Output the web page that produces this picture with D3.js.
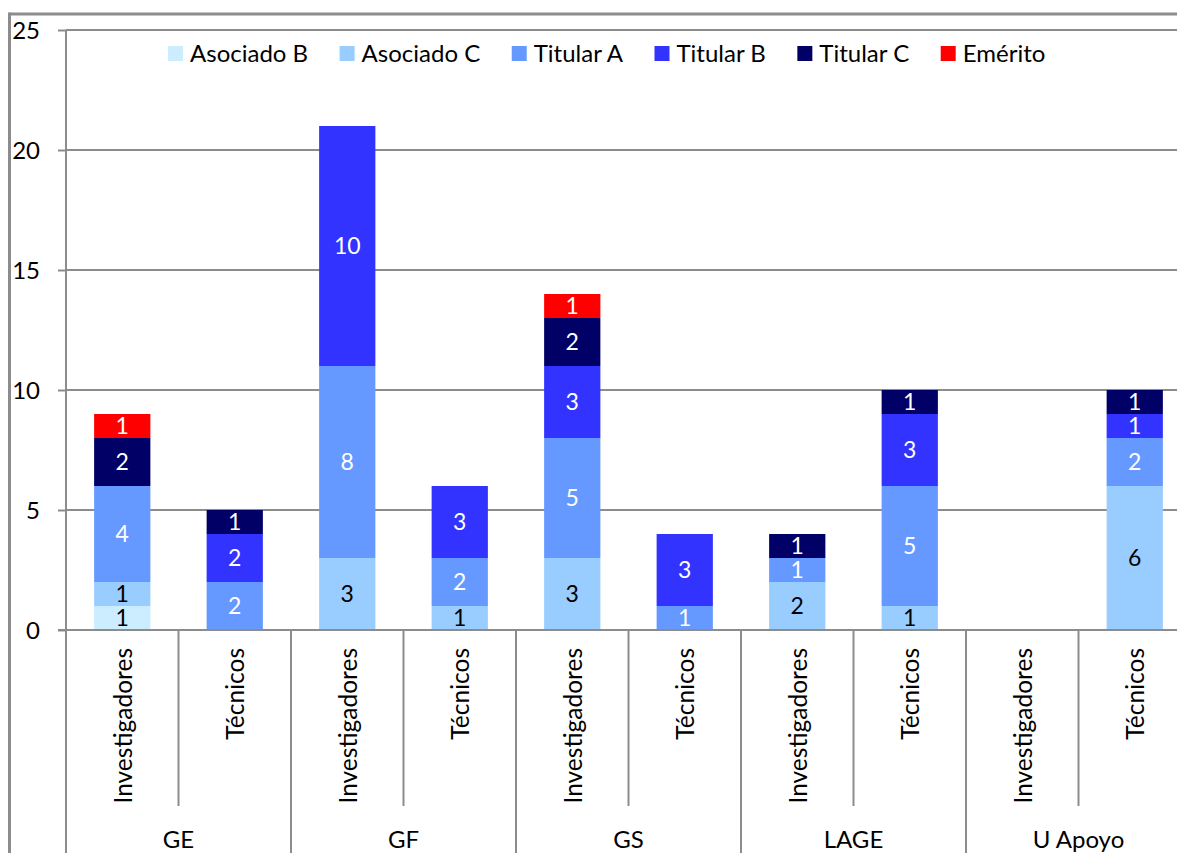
<!DOCTYPE html>
<html>
<head>
<meta charset="utf-8">
<script src="https://cdn.jsdelivr.net/npm/d3@7"></script>
<style>
  html, body { margin: 0; padding: 0; background: #fff; }
  svg { display: block; }
  text { font-family: Lato, "Open Sans", sans-serif; }
</style>
</head>
<body>
<svg id="chart" width="1177" height="853"></svg>
<script>
// ---- Data ----
const groups = ["GE", "GF", "GS", "LAGE", "U Apoyo"];
const subcategories = ["Investigadores", "Técnicos"];
const seriesNames = ["Asociado B", "Asociado C", "Titular A", "Titular B", "Titular C", "Emérito"];
const seriesColors = ["#CCECFF", "#99CCFF", "#6699FF", "#3333FF", "#000066", "#FF0000"];
const labelColors = ["#000000", "#000000", "#FFFFFF", "#FFFFFF", "#FFFFFF", "#FFFFFF"];
// order: GE-Inv, GE-Tec, GF-Inv, GF-Tec, GS-Inv, GS-Tec, LAGE-Inv, LAGE-Tec, UA-Inv, UA-Tec
const asociadoB = [1, 0, 0, 0, 0, 0, 0, 0, 0, 0];
const asociadoC = [1, 0, 3, 1, 3, 0, 2, 1, 0, 6];
const titularA  = [4, 2, 8, 2, 5, 1, 1, 5, 0, 2];
const titularB  = [0, 2, 10, 3, 3, 3, 0, 3, 0, 1];
const titularC  = [2, 1, 0, 0, 2, 0, 1, 1, 0, 1];
const emerito   = [1, 0, 0, 0, 1, 0, 0, 0, 0, 0];
const yTicks = [0, 5, 10, 15, 20, 25];

const seriesValues = [asociadoB, asociadoC, titularA, titularB, titularC, emerito];

(function () {
// ---- Build table ----
const rows = [];
groups.forEach((g, gi) => subcategories.forEach((s, si) => {
  const idx = gi * subcategories.length + si;
  const row = { key: g + "|" + s, group: g, sub: s };
  seriesNames.forEach((n, k) => row[n] = seriesValues[k][idx]);
  rows.push(row);
}));

const svg = d3.select("#chart");
const FONT = 23;
const LEGEND_FONT = 24;
const CAT_FONT = 24.5;
const gridColor = "#8c8c8c";

const pLeft = 66, pTop = 30, pBottom = 630;
const step = 112.5;
const pRight = pLeft + step * rows.length;

const x = d3.scaleBand().domain(rows.map(r => r.key)).range([pLeft, pRight]).paddingInner(0.5).paddingOuter(0.25);
const y = d3.scaleLinear().domain([0, 25]).range([pBottom, pTop]);

// outer frame (partial)
svg.append("line").attr("x1", 9.5).attr("x2", 1177).attr("y1", 14).attr("y2", 14)
  .attr("stroke", gridColor).attr("stroke-width", 3);
svg.append("line").attr("x1", 9.5).attr("x2", 9.5).attr("y1", 12.5).attr("y2", 853)
  .attr("stroke", gridColor).attr("stroke-width", 3);

// gridlines
svg.append("g").selectAll("line").data(yTicks.filter(t => t > 0)).join("line")
  .attr("x1", pLeft).attr("x2", 1177)
  .attr("y1", d => y(d)).attr("y2", d => y(d))
  .attr("stroke", gridColor).attr("stroke-width", 2);

// y axis
const yAxis = d3.axisLeft(y).tickValues(yTicks).tickSize(8).tickPadding(18);
const gy = svg.append("g").attr("transform", `translate(${pLeft},0)`).call(yAxis);
gy.select(".domain").remove();
gy.selectAll(".tick line").attr("stroke", gridColor).attr("stroke-width", 2);
gy.selectAll(".tick text").attr("font-size", LEGEND_FONT).attr("fill", "#000")
  .attr("font-family", "Lato, 'Open Sans', sans-serif").attr("dy", "0.36em");

// vertical y-axis line extends to bottom
svg.append("line").attr("x1", pLeft).attr("x2", pLeft).attr("y1", pTop).attr("y2", 853)
  .attr("stroke", gridColor).attr("stroke-width", 2);

// stacked bars
const stack = d3.stack().keys(seriesNames);
const stacked = stack(rows);

const gBars = svg.append("g");
stacked.forEach((layer, k) => {
  const g = gBars.append("g");
  g.selectAll("rect").data(layer.filter(d => d[1] - d[0] > 0)).join("rect")
    .attr("x", d => x(d.data.key))
    .attr("width", x.bandwidth())
    .attr("y", d => y(d[1]))
    .attr("height", d => y(d[0]) - y(d[1]))
    .attr("fill", seriesColors[k]);
});
stacked.forEach((layer, k) => {
  gBars.append("g").selectAll("text").data(layer.filter(d => d[1] - d[0] > 0)).join("text")
    .attr("x", d => x(d.data.key) + x.bandwidth() / 2)
    .attr("y", d => (y(d[0]) + y(d[1])) / 2)
    .attr("dy", "0.36em")
    .attr("text-anchor", "middle")
    .attr("font-size", FONT)
    .attr("fill", labelColors[k])
    .text(d => d[1] - d[0]);
});

// x axis line
svg.append("line").attr("x1", pLeft - 8).attr("x2", 1177).attr("y1", pBottom).attr("y2", pBottom)
  .attr("stroke", gridColor).attr("stroke-width", 2);

// subcategory / group separators
const boundaries = d3.range(1, rows.length).map(i => pLeft + step * i);
svg.append("g").selectAll("line").data(boundaries).join("line")
  .attr("x1", d => d).attr("x2", d => d)
  .attr("y1", pBottom).attr("y2", (d, i) => ((i + 1) % 2 === 0) ? 853 : 806)
  .attr("stroke", gridColor).attr("stroke-width", 2);

// subcategory labels
svg.append("g").selectAll("text").data(rows).join("text")
  .attr("transform", d => `translate(${x(d.key) + x.bandwidth() / 2 + 9.5},648) rotate(-90)`)
  .attr("text-anchor", "end")
  .attr("font-size", CAT_FONT)
  .attr("fill", "#000")
  .text(d => d.sub);

// group labels
svg.append("g").selectAll("text").data(groups).join("text")
  .attr("x", (d, i) => pLeft + step * subcategories.length * (i + 0.5))
  .attr("y", 848)
  .attr("text-anchor", "middle")
  .attr("font-size", LEGEND_FONT)
  .attr("fill", "#000")
  .text(d => d);

// legend
const legend = svg.append("g");
let lx = 168;
seriesNames.forEach((n, k) => {
  legend.append("rect").attr("x", lx).attr("y", 46).attr("width", 15).attr("height", 15)
    .attr("fill", seriesColors[k]);
  const t = legend.append("text").attr("x", lx + 22).attr("y", 53.5).attr("dy", "0.36em")
    .attr("font-size", LEGEND_FONT).attr("fill", "#000").text(n);
  const w = t.node().getComputedTextLength();
  lx = lx + 22 + w + 31.5;
});
})();
</script>
</body>
</html>
